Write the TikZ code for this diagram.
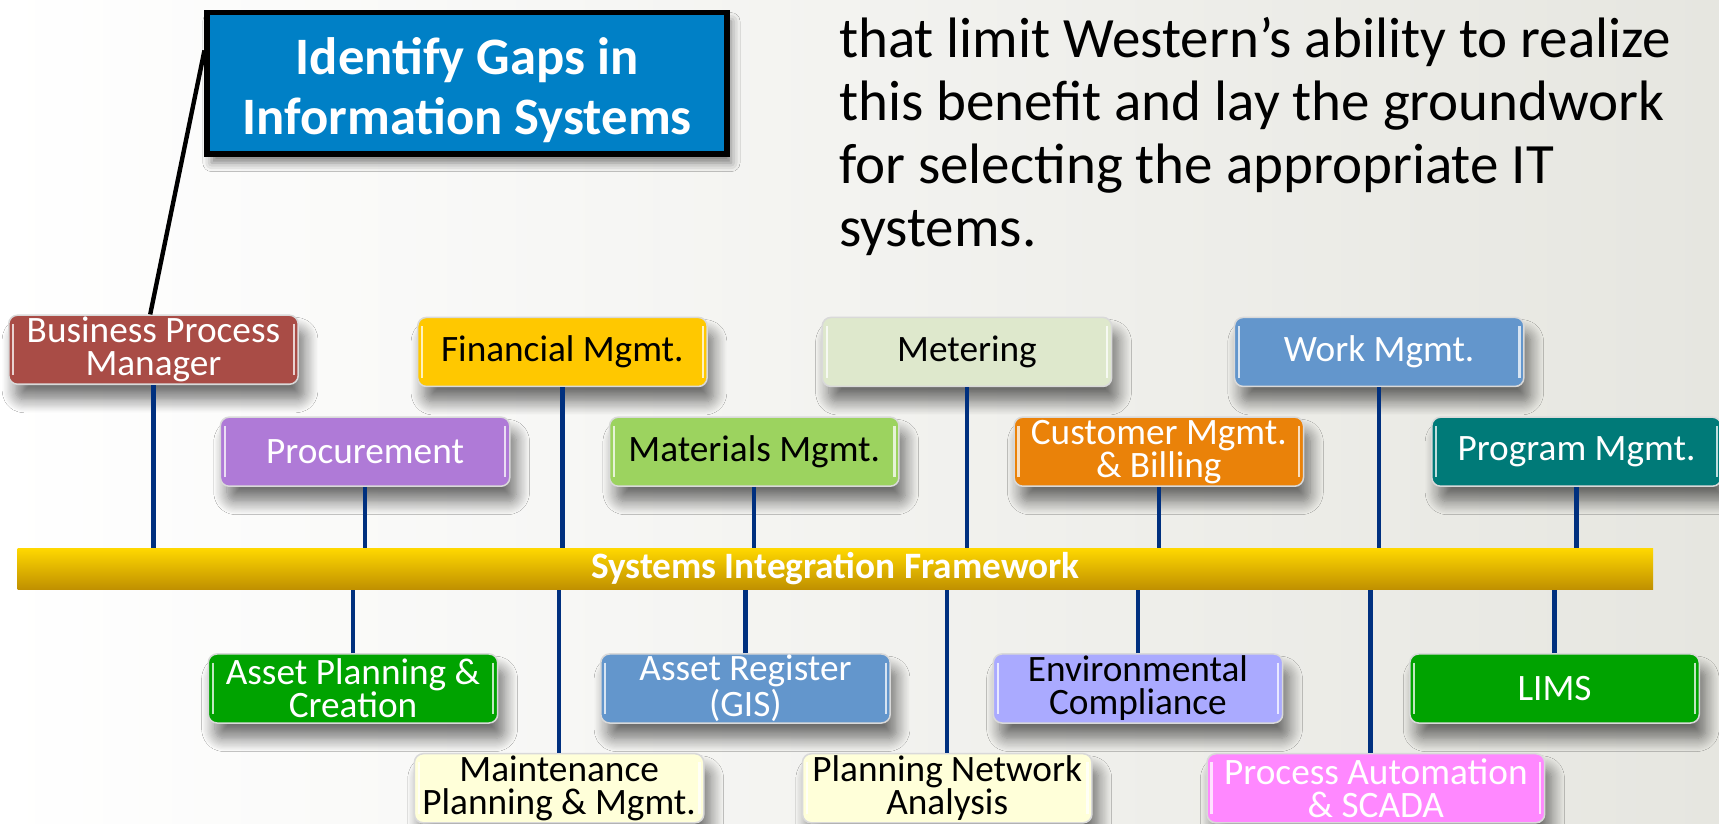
\documentclass[tikz,border=0pt]{standalone}
\usepackage{fontspec}
\setmainfont{Carlito}
\usetikzlibrary{shadows.blur}
\definecolor{bggray}{RGB}{230,230,224}
\definecolor{cbpm}{HTML}{A94C46}
\definecolor{cfin}{HTML}{FFC800}
\definecolor{cmet}{HTML}{DEE8CC}
\definecolor{cwork}{HTML}{6396CC}
\definecolor{cproc}{HTML}{AF7AD7}
\definecolor{cmat}{HTML}{9CD35F}
\definecolor{ccust}{HTML}{EA8209}
\definecolor{cprog}{HTML}{007A78}
\definecolor{cgreen}{HTML}{00A300}
\definecolor{cenv}{HTML}{AAAAFF}
\definecolor{cpale}{HTML}{FFFFD9}
\definecolor{cpink}{HTML}{FF88FF}
\definecolor{cconn}{HTML}{00307F}
\definecolor{ctitle}{HTML}{0080C6}
\definecolor{barTop}{HTML}{FFD800}
\definecolor{barBot}{HTML}{BF8F00}
\tikzset{
  sysbox/.style={rounded corners=4pt, minimum width=132pt, minimum height=31.5pt,
    inner sep=0pt, align=center, font=\fontsize{17}{15}\selectfont,
    draw=white!70!gray, line width=0.7pt,
    blur shadow={shadow xshift=3pt, shadow yshift=-7pt, shadow blur radius=6pt,
      shadow blur steps=12, shadow opacity=55},
    path picture={
      \draw[white, opacity=0.75, line width=1pt]
        ([xshift=2pt,yshift=-4pt]path picture bounding box.north west) --
        ([xshift=2pt,yshift=4pt]path picture bounding box.south west);
      \draw[white, opacity=0.75, line width=1pt]
        ([xshift=-2pt,yshift=-4pt]path picture bounding box.north east) --
        ([xshift=-2pt,yshift=4pt]path picture bounding box.south east);}},
  conn/.style={draw=cconn, line width=2pt},
  barbox/.style={minimum width=746pt, minimum height=19pt, inner sep=0pt,
    top color=barTop, bottom color=barBot, text=white,
    font=\fontsize{17}{18}\selectfont\bfseries},
  titlebox/.style={minimum width=237pt, minimum height=64.5pt, inner sep=0pt,
    fill=ctitle, draw=black, line width=2.5pt,
    blur shadow={shadow xshift=2pt, shadow yshift=-4pt, shadow blur radius=4pt, shadow opacity=50}},
  titletext/.style={text=white, align=center, inner sep=0pt,
    font=\fontsize{24}{27.5}\selectfont\bfseries},
  bodytext/.style={anchor=base west, inner sep=0pt, font=\fontsize{26}{28}\selectfont}
}
\begin{document}
\begin{tikzpicture}[x=0.5pt,y=-0.5pt]
\useasboundingbox (0,0) rectangle (1568,751);
\clip (0,0) rectangle (1568,751);
\shade[left color=white, right color=bggray] (0,0) rectangle (1568,751);

% title
\node[titlebox] (title) at (426,76) {};
\node[titletext] (titletxt) at (426,82) {Identify Gaps in\\Information Systems};

% right text
\node[bodytext] (t1) at (765,52) {that limit Western’s ability to realize};
\node[bodytext] (t2) at (765,110) {this benefit and lay the groundwork};
\node[bodytext] (t3) at (765,167) {for selecting the appropriate IT};
\node[bodytext] (t4) at (765,225) {systems.};

% bar
\node[barbox] (bar) at (762,519) {Systems Integration Framework};

% top row
\node[sysbox, fill=cbpm, text=white] (bpm) at (140,319) {Business Process\\Manager};
\node[sysbox, fill=cfin, text=black] (fin) at (513,321) {Financial Mgmt.};
\node[sysbox, fill=cmet, text=black] (met) at (882,321) {Metering};
\node[sysbox, fill=cwork, text=white] (work) at (1258,321) {Work Mgmt.};
% second row
\node[sysbox, fill=cproc, text=white] (proc) at (333,412) {Procurement};
\node[sysbox, fill=cmat, text=black] (mat) at (688,412) {Materials Mgmt.};
\node[sysbox, fill=ccust, text=white] (cust) at (1057,412) {Customer Mgmt.\\\& Billing};
\node[sysbox, fill=cprog, text=white] (prog) at (1438,412) {Program Mgmt.};
% below bar
\node[sysbox, fill=cgreen, text=white] (apc) at (322,628) {Asset Planning \&\\Creation};
\node[sysbox, fill=cwork, text=white] (areg) at (680,628) {Asset Register\\(GIS)};
\node[sysbox, fill=cenv, text=black] (env) at (1038,628) {Environmental\\Compliance};
\node[sysbox, fill=cgreen, text=white] (lims) at (1418,628) {LIMS};
% bottom row
\node[sysbox, fill=cpale, text=black] (mpm) at (510,719) {Maintenance\\Planning \& Mgmt.};
\node[sysbox, fill=cpale, text=black] (pna) at (864,719) {Planning Network\\Analysis};
\node[sysbox, fill=cpink, text=white, minimum width=154pt] (pas) at (1255,719) {Process Automation\\\& SCADA};

% title connector
\draw[black, line width=2pt] ([yshift=15pt]title.west) -- ([xshift=-1.5pt]bpm.north);

% connectors to bar
\foreach \n in {bpm,fin,met,work,proc,mat,cust,prog}
  \draw[conn] (\n.south) -- (\n.south |- bar.north);
\foreach \n in {apc,areg,env,lims,mpm,pna}
  \draw[conn] (\n.north) -- (\n.north |- bar.south);
\draw[conn] ([xshift=-2.5pt]pas.north) -- ([xshift=-2.5pt]pas.north |- bar.south);
\end{tikzpicture}
\end{document}
